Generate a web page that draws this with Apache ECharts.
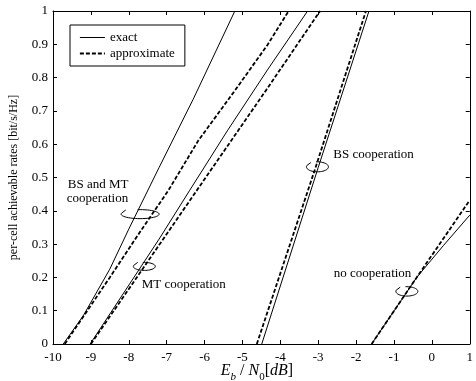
<!DOCTYPE html>
<html><head><meta charset="utf-8">
<script src="https://cdn.jsdelivr.net/npm/echarts@6/dist/echarts.min.js"></script>
<style>html,body{margin:0;padding:0;background:#fff}#c{width:476px;height:381px}</style>
</head><body><div id="c"></div>
<script>
// ---- data (x: Eb/N0 [dB], y: per-cell achievable rate [bit/s/Hz]) ----
const bsmtExact  = [[-9.73,0],[-9.2,0.085],[-8.5,0.225],[-8.0,0.345],[-7.2,0.53],[-6.3,0.735],[-5.2,1.0]];
const bsmtApprox = [[-9.69,0],[-8.5,0.2],[-7.73,0.332],[-6.95,0.462],[-6.17,0.61],[-5.2,0.761],[-4.34,0.898],[-3.78,1.0]];
const mtExact    = [[-9.02,0],[-7.2,0.315],[-6.4,0.46],[-5.4,0.64],[-4.34,0.823],[-3.28,1.0]];
const mtApprox   = [[-9.0,0],[-7.2,0.297],[-6.03,0.49],[-4.34,0.768],[-2.95,1.0]];
const bsExact    = [[-4.49,0],[-3.0,0.53],[-1.66,1.0]];
const bsApprox   = [[-4.62,0],[-3.07,0.53],[-1.74,1.0]];
const noExact    = [[-1.59,0],[-0.4,0.2],[0.3,0.295],[1.0,0.387]];
const noApprox   = [[-1.59,0],[-0.4,0.2],[1.0,0.432]];

const legendNames = ['exact','approximate'];
const annotTexts = [
  {text:'BS and MT', at:[-9.61,0.479]},
  {text:'cooperation', at:[-9.635,0.437]},
  {text:'MT cooperation', at:[-7.66,0.177]},
  {text:'BS cooperation', at:[-2.60,0.568]},
  {text:'no cooperation', at:[-2.59,0.21]}
];
const loops = [
  {at:[-7.70,0.39], rx:19, ry:4.5},
  {at:[-7.59,0.233], rx:11, ry:4},
  {at:[-3.02,0.532], rx:11, ry:5},
  {at:[-0.66,0.158], rx:11, ry:4.7}
];

const FONT = 'Liberation Serif';
const exactStyle  = {color:'#000', width:1, type:'solid'};
const approxStyle = {color:'#000', width:1.8, type:[4,2]};

function mk(name, data, ls){
  return {name, type:'line', data, symbol:'none', showSymbol:false, lineStyle:ls, itemStyle:{color:'#000'}, animation:false, z:3};
}

const chart = echarts.init(document.getElementById('c'), null, {renderer:'canvas'});
const axBase = {type:'value', splitLine:{show:false},
  axisLine:{show:true, onZero:false, lineStyle:{color:'#000', width:1}},
  axisTick:{show:true, inside:true, length:4, lineStyle:{color:'#000', width:1}}};

chart.setOption({
  animation:false,
  backgroundColor:'#fff',
  grid:{left:53, right:1, top:11, bottom:37, containLabel:false},
  xAxis:[
    Object.assign({}, axBase, {min:-10, max:1, interval:1, position:'bottom',
      axisLabel:{color:'#000', fontFamily:FONT, fontSize:13, margin:7}}),
    Object.assign({}, axBase, {min:-10, max:1, interval:1, position:'top', axisLabel:{show:false}})
  ],
  yAxis:[
    Object.assign({}, axBase, {min:0, max:1, interval:0.1, position:'left',
      axisLabel:{color:'#000', fontFamily:FONT, fontSize:13, margin:5},
      name:'per-cell achievable rates [bit/s/Hz]', nameLocation:'middle', nameGap:33,
      nameTextStyle:{color:'#000', fontFamily:FONT, fontSize:12}}),
    Object.assign({}, axBase, {min:0, max:1, interval:0.1, position:'right', axisLabel:{show:false}})
  ],
  legend:{
    data:legendNames, orient:'vertical', left:70, top:25,
    padding:[6,10,6,9], itemGap:3, itemWidth:25, itemHeight:14,
    borderColor:'#000', borderWidth:1, borderRadius:0, backgroundColor:'#fff',
    itemStyle:{opacity:0},
    lineStyle:{width:'inherit'},
    textStyle:{color:'#000', fontFamily:FONT, fontSize:13}
  },
  series:[
    mk('exact', bsmtExact, exactStyle),
    mk('approximate', bsmtApprox, approxStyle),
    mk('exact', mtExact, exactStyle),
    mk('approximate', mtApprox, approxStyle),
    mk('exact', bsExact, exactStyle),
    mk('approximate', bsApprox, approxStyle),
    mk('exact', noExact, exactStyle),
    mk('approximate', noApprox, approxStyle)
  ]
});

// annotations placed in data coordinates
const g = [];
annotTexts.forEach(a=>{
  const p = chart.convertToPixel({xAxisIndex:0, yAxisIndex:0}, a.at);
  g.push({type:'text', x:p[0], y:p[1], z:10, style:{text:a.text, fill:'#000', font:'13px "'+FONT+'"', textAlign:'left', textVerticalAlign:'middle', align:'left', verticalAlign:'middle'}});
});
loops.forEach(l=>{
  const c = chart.convertToPixel({xAxisIndex:0, yAxisIndex:0}, l.at);
  const pts = [];
  for (let t=165; t<=460; t+=7.5){
    const r = t*Math.PI/180;
    pts.push([c[0]+l.rx*Math.cos(r), c[1]-l.ry*Math.sin(r)]);
  }
  const s = pts[0];
  g.push({type:'polyline', z:10, shape:{points:pts}, style:{stroke:'#000', lineWidth:1, fill:null}});
  g.push({type:'polyline', z:10, shape:{points:[[s[0]+4, s[1]-3],[s[0],s[1]]]}, style:{stroke:'#000', lineWidth:1, fill:null}});
});
// x axis title
g.push({type:'text', x:257, y:363, z:10, style:{
  text:'{i|E}{si|b}{n| / }{i|N}{s|0}{n|[}{i|dB}{n|]}',
  align:'center', textAlign:'center', verticalAlign:'top', textVerticalAlign:'top',
  rich:{
    i:{fontFamily:FONT, fontStyle:'italic', fontSize:16, lineHeight:20, verticalAlign:'top', color:'#000'},
    n:{fontFamily:FONT, fontSize:16, lineHeight:20, verticalAlign:'top', color:'#000'},
    si:{fontFamily:FONT, fontStyle:'italic', fontSize:11, lineHeight:11, padding:[9,0,0,0], verticalAlign:'top', color:'#000'},
    s:{fontFamily:FONT, fontSize:11, lineHeight:11, padding:[9,0,0,0], verticalAlign:'top', color:'#000'}
  }}});
chart.setOption({graphic:g});
</script></body></html>
